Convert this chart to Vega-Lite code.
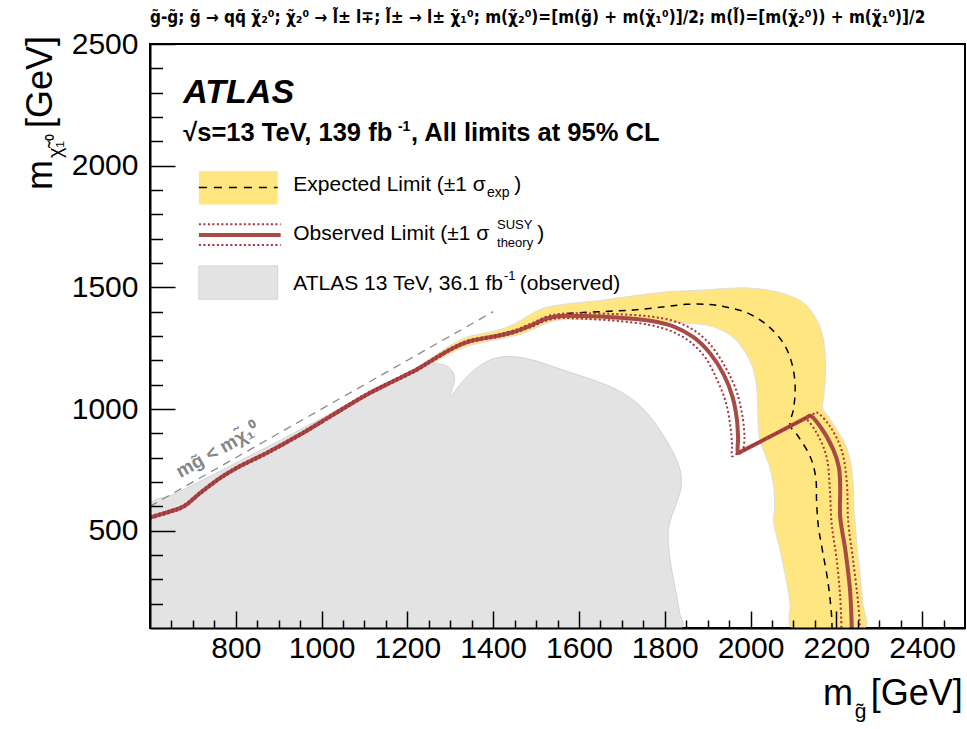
{
  "$schema": "https://vega.github.io/schema/vega-lite/v6.json",
  "width": 815,
  "height": 584,
  "autosize": {"type": "none"},
  "padding": {"left": 150, "top": 44, "right": 2, "bottom": 101},
  "background": "white",
  "config": {
    "view": {"stroke": "black", "strokeWidth": 2},
    "font": "Liberation Sans",
    "axis": {"grid": false, "domain": true, "domainColor": "black", "domainWidth": 2, "tickColor": "black", "tickWidth": 1.5, "labelFont": "Liberation Sans", "labelFontSize": 30, "labelColor": "black", "labelOverlap": false, "labelFlush": false, "labelBound": false}
  },
  "title": {
    "text": "g\u0303-g\u0303; g\u0303 \u2192 qq\u0304 \u03c7\u0303\u2082\u2070; \u03c7\u0303\u2082\u2070 \u2192 l\u0303\u00b1 l\u2213; l\u0303\u00b1 \u2192 l\u00b1 \u03c7\u0303\u2081\u2070; m(\u03c7\u0303\u2082\u2070)=[m(g\u0303) + m(\u03c7\u0303\u2081\u2070)]/2; m(l\u0303)=[m(\u03c7\u0303\u2082\u2070)) + m(\u03c7\u0303\u2081\u2070)]/2",
    "anchor": "start",
    "frame": "group",
    "font": "Liberation Sans Narrow, DejaVu Sans Condensed, sans-serif",
    "fontSize": 17,
    "fontWeight": "bold",
    "color": "black",
    "baseline": "alphabetic",
    "offset": -11
  },
  "resolve": {"axis": {"x": "independent", "y": "independent"}},
  "datasets": {
    "gray": [
      {"i":0,"x":600,"y":100},{"i":1,"x":600,"y":608},{"i":2,"x":650,"y":645},{"i":3,"x":700,"y":688},{"i":4,"x":750,"y":732},{"i":5,"x":800,"y":778},{"i":6,"x":850,"y":823},{"i":7,"x":900,"y":868},{"i":8,"x":950,"y":915},{"i":9,"x":1000,"y":962},{"i":10,"x":1050,"y":1010},{"i":11,"x":1100,"y":1060},{"i":12,"x":1150,"y":1105},{"i":13,"x":1200,"y":1150},{"i":14,"x":1235,"y":1175},{"i":15,"x":1268,"y":1186},{"i":16,"x":1290,"y":1178},{"i":17,"x":1305,"y":1155},{"i":18,"x":1310,"y":1125},{"i":19,"x":1306,"y":1090},{"i":20,"x":1300,"y":1052},{"i":21,"x":1318,"y":1090},{"i":22,"x":1340,"y":1135},{"i":23,"x":1369,"y":1178},{"i":24,"x":1395,"y":1203},{"i":25,"x":1420,"y":1214},{"i":26,"x":1455,"y":1214},{"i":27,"x":1495,"y":1200},{"i":28,"x":1533,"y":1178},{"i":29,"x":1575,"y":1153},{"i":30,"x":1618,"y":1128},{"i":31,"x":1655,"y":1105},{"i":32,"x":1690,"y":1078},{"i":33,"x":1720,"y":1045},{"i":34,"x":1745,"y":1008},{"i":35,"x":1772,"y":955},{"i":36,"x":1797,"y":890},{"i":37,"x":1820,"y":820},{"i":38,"x":1835,"y":755},{"i":39,"x":1839,"y":690},{"i":40,"x":1830,"y":625},{"i":41,"x":1818,"y":570},{"i":42,"x":1809,"y":510},{"i":43,"x":1808,"y":460},{"i":44,"x":1811,"y":400},{"i":45,"x":1818,"y":320},{"i":46,"x":1828,"y":230},{"i":47,"x":1835,"y":160},{"i":48,"x":1840,"y":100},{"i":49,"x":600,"y":100}
    ],
    "band": [
      {"i":0,"x":1195,"y":1140},{"i":1,"x":1230,"y":1182},{"i":2,"x":1260,"y":1215},{"i":3,"x":1300,"y":1262},{"i":4,"x":1338,"y":1295},{"i":5,"x":1380,"y":1312},{"i":6,"x":1416,"y":1327},{"i":7,"x":1450,"y":1350},{"i":8,"x":1478,"y":1380},{"i":9,"x":1517,"y":1414},{"i":10,"x":1571,"y":1432},{"i":11,"x":1649,"y":1446},{"i":12,"x":1727,"y":1465},{"i":13,"x":1805,"y":1482},{"i":14,"x":1882,"y":1488},{"i":15,"x":1950,"y":1496},{"i":16,"x":2000,"y":1497},{"i":17,"x":2069,"y":1478},{"i":18,"x":2123,"y":1437},{"i":19,"x":2154,"y":1368},{"i":20,"x":2170,"y":1286},{"i":21,"x":2175,"y":1149},{"i":22,"x":2170,"y":1040},{"i":23,"x":2168,"y":1005},{"i":24,"x":2185,"y":960},{"i":25,"x":2201,"y":915},{"i":26,"x":2220,"y":860},{"i":27,"x":2232,"y":790},{"i":28,"x":2239,"y":700},{"i":29,"x":2241,"y":600},{"i":30,"x":2244,"y":531},{"i":31,"x":2249,"y":430},{"i":32,"x":2255,"y":325},{"i":33,"x":2262,"y":200},{"i":34,"x":2267,"y":100},{"i":35,"x":2096,"y":100},{"i":36,"x":2092,"y":202},{"i":37,"x":2080,"y":325},{"i":38,"x":2065,"y":449},{"i":39,"x":2054,"y":531},{"i":40,"x":2056,"y":600},{"i":41,"x":2055,"y":668},{"i":42,"x":2045,"y":760},{"i":43,"x":2030,"y":830},{"i":44,"x":2020,"y":888},{"i":45,"x":2017,"y":984},{"i":46,"x":2015,"y":1080},{"i":47,"x":2005,"y":1170},{"i":48,"x":1985,"y":1240},{"i":49,"x":1960,"y":1293},{"i":50,"x":1913,"y":1338},{"i":51,"x":1836,"y":1354},{"i":52,"x":1760,"y":1362},{"i":53,"x":1690,"y":1366},{"i":54,"x":1620,"y":1368},{"i":55,"x":1556,"y":1366},{"i":56,"x":1520,"y":1350},{"i":57,"x":1490,"y":1325},{"i":58,"x":1460,"y":1305},{"i":59,"x":1420,"y":1290},{"i":60,"x":1380,"y":1275},{"i":61,"x":1340,"y":1258},{"i":62,"x":1300,"y":1228},{"i":63,"x":1260,"y":1188},{"i":64,"x":1225,"y":1160},{"i":65,"x":1195,"y":1140}
    ],
    "diag": [{"i":0,"x":600,"y":600},{"i":1,"x":1400,"y":1400}],
    "exp": [
      {"i":0,"x":600,"y":554},{"i":1,"x":647,"y":579},{"i":2,"x":678,"y":599},{"i":3,"x":717,"y":655},{"i":4,"x":763,"y":716},{"i":5,"x":802,"y":758},{"i":6,"x":872,"y":819},{"i":7,"x":950,"y":895},{"i":8,"x":1027,"y":977},{"i":9,"x":1105,"y":1059},{"i":10,"x":1167,"y":1114},{"i":11,"x":1222,"y":1162},{"i":12,"x":1260,"y":1203},{"i":13,"x":1307,"y":1251},{"i":14,"x":1346,"y":1279},{"i":15,"x":1408,"y":1300},{"i":16,"x":1450,"y":1318},{"i":17,"x":1490,"y":1348},{"i":18,"x":1525,"y":1373},{"i":19,"x":1571,"y":1391},{"i":20,"x":1650,"y":1400},{"i":21,"x":1727,"y":1407},{"i":22,"x":1800,"y":1420},{"i":23,"x":1850,"y":1430},{"i":24,"x":1900,"y":1430},{"i":25,"x":1940,"y":1420},{"i":26,"x":1991,"y":1396},{"i":27,"x":2037,"y":1347},{"i":28,"x":2076,"y":1272},{"i":29,"x":2096,"y":1190},{"i":30,"x":2104,"y":1094},{"i":31,"x":2100,"y":997},{"i":32,"x":2092,"y":935},{"i":33,"x":2111,"y":888},{"i":34,"x":2139,"y":805},{"i":35,"x":2152,"y":720},{"i":36,"x":2154,"y":620},{"i":37,"x":2158,"y":520},{"i":38,"x":2166,"y":435},{"i":39,"x":2181,"y":284},{"i":40,"x":2189,"y":150},{"i":41,"x":2190,"y":100}
    ],
    "obs": [
      {"i":0,"x":600,"y":554},{"i":1,"x":647,"y":579},{"i":2,"x":678,"y":599},{"i":3,"x":717,"y":655},{"i":4,"x":763,"y":716},{"i":5,"x":802,"y":758},{"i":6,"x":872,"y":819},{"i":7,"x":950,"y":895},{"i":8,"x":1027,"y":977},{"i":9,"x":1105,"y":1059},{"i":10,"x":1167,"y":1114},{"i":11,"x":1222,"y":1162},{"i":12,"x":1260,"y":1203},{"i":13,"x":1307,"y":1251},{"i":14,"x":1346,"y":1279},{"i":15,"x":1408,"y":1300},{"i":16,"x":1450,"y":1318},{"i":17,"x":1490,"y":1345},{"i":18,"x":1525,"y":1372},{"i":19,"x":1556,"y":1382},{"i":20,"x":1610,"y":1382},{"i":21,"x":1688,"y":1376},{"i":22,"x":1766,"y":1363},{"i":23,"x":1820,"y":1340},{"i":24,"x":1867,"y":1295},{"i":25,"x":1906,"y":1228},{"i":26,"x":1938,"y":1140},{"i":27,"x":1958,"y":1050},{"i":28,"x":1968,"y":960},{"i":29,"x":1971,"y":880},{"i":30,"x":1971,"y":819},{"i":31,"x":1980,"y":827},{"i":32,"x":2130,"y":964},{"i":33,"x":2139,"y":972},{"i":34,"x":2162,"y":929},{"i":35,"x":2193,"y":833},{"i":36,"x":2206,"y":760},{"i":37,"x":2209,"y":680},{"i":38,"x":2209,"y":558},{"i":39,"x":2221,"y":421},{"i":40,"x":2232,"y":256},{"i":41,"x":2236,"y":100}
    ],
    "obsUp": [
      {"i":0,"x":600,"y":559},{"i":1,"x":647,"y":584},{"i":2,"x":678,"y":604},{"i":3,"x":717,"y":660},{"i":4,"x":763,"y":721},{"i":5,"x":802,"y":763},{"i":6,"x":872,"y":824},{"i":7,"x":950,"y":900},{"i":8,"x":1027,"y":982},{"i":9,"x":1105,"y":1064},{"i":10,"x":1167,"y":1119},{"i":11,"x":1222,"y":1167},{"i":12,"x":1260,"y":1208},{"i":13,"x":1307,"y":1256},{"i":14,"x":1346,"y":1284},{"i":15,"x":1408,"y":1305},{"i":16,"x":1450,"y":1324},{"i":17,"x":1490,"y":1352},{"i":18,"x":1525,"y":1380},{"i":19,"x":1556,"y":1391},{"i":20,"x":1610,"y":1393},{"i":21,"x":1688,"y":1390},{"i":22,"x":1766,"y":1380},{"i":23,"x":1820,"y":1362},{"i":24,"x":1867,"y":1325},{"i":25,"x":1906,"y":1265},{"i":26,"x":1942,"y":1170},{"i":27,"x":1968,"y":1070},{"i":28,"x":1982,"y":960},{"i":29,"x":1986,"y":880},{"i":30,"x":1985,"y":832},{"i":31,"x":1995,"y":841},{"i":32,"x":2145,"y":978},{"i":33,"x":2154,"y":986},{"i":34,"x":2185,"y":929},{"i":35,"x":2212,"y":833},{"i":36,"x":2224,"y":709},{"i":37,"x":2228,"y":531},{"i":38,"x":2239,"y":380},{"i":39,"x":2251,"y":202},{"i":40,"x":2255,"y":100}
    ],
    "obsDn": [
      {"i":0,"x":600,"y":549},{"i":1,"x":647,"y":574},{"i":2,"x":678,"y":594},{"i":3,"x":717,"y":650},{"i":4,"x":763,"y":711},{"i":5,"x":802,"y":753},{"i":6,"x":872,"y":814},{"i":7,"x":950,"y":890},{"i":8,"x":1027,"y":972},{"i":9,"x":1105,"y":1054},{"i":10,"x":1167,"y":1109},{"i":11,"x":1222,"y":1157},{"i":12,"x":1260,"y":1198},{"i":13,"x":1307,"y":1246},{"i":14,"x":1346,"y":1274},{"i":15,"x":1408,"y":1295},{"i":16,"x":1450,"y":1312},{"i":17,"x":1490,"y":1338},{"i":18,"x":1525,"y":1364},{"i":19,"x":1556,"y":1373},{"i":20,"x":1610,"y":1371},{"i":21,"x":1688,"y":1362},{"i":22,"x":1766,"y":1345},{"i":23,"x":1820,"y":1316},{"i":24,"x":1860,"y":1275},{"i":25,"x":1895,"y":1210},{"i":26,"x":1922,"y":1120},{"i":27,"x":1942,"y":1030},{"i":28,"x":1953,"y":930},{"i":29,"x":1957,"y":850},{"i":30,"x":1957,"y":806},{"i":31,"x":1967,"y":815},{"i":32,"x":2118,"y":953},{"i":33,"x":2127,"y":961},{"i":34,"x":2154,"y":902},{"i":35,"x":2177,"y":805},{"i":36,"x":2185,"y":668},{"i":37,"x":2189,"y":531},{"i":38,"x":2201,"y":380},{"i":39,"x":2209,"y":229},{"i":40,"x":2212,"y":100}
    ]
  },
  "layer": [
    {"data": {"name": "gray"}, "mark": {"type": "line", "fill": "#e3e3e3", "stroke": "#d3d3d3", "strokeWidth": 1, "interpolate": "catmull-rom", "clip": true},
     "encoding": {
      "x": {"field": "x", "type": "quantitative",
        "scale": {"domain": [600, 2500], "nice": false, "zero": false},
        "axis": {"title": null, "orient": "bottom", "format": "d", "zindex": 1,
          "values": [650,700,750,800,850,900,950,1000,1050,1100,1150,1200,1250,1300,1350,1400,1450,1500,1550,1600,1650,1700,1750,1800,1850,1900,1950,2000,2050,2100,2150,2200,2250,2300,2350,2400,2450],
          "labelExpr": "datum.value % 200 === 0 ? datum.label : ''",
          "tickSize": {"condition": {"test": "datum.value % 200 === 0", "value": -17}, "value": -8},
          "labelPadding": 22}},
      "y": {"field": "y", "type": "quantitative",
        "scale": {"domain": [100, 2500], "nice": false, "zero": false},
        "axis": {"title": null, "orient": "left", "format": "d", "zindex": 1,
          "values": [200,300,400,500,600,700,800,900,1000,1100,1200,1300,1400,1500,1600,1700,1800,1900,2000,2100,2200,2300,2400,2500],
          "labelExpr": "datum.value % 500 === 0 ? datum.label : ''",
          "tickSize": {"condition": {"test": "datum.value % 500 === 0", "value": -25}, "value": -12.5},
          "labelPadding": 37}},
      "order": {"field": "i", "type": "quantitative"}}},
    {"data": {"name": "band"}, "mark": {"type": "line", "fill": "#ffe680", "stroke": "#dedede", "strokeWidth": 1, "interpolate": "catmull-rom", "clip": true},
     "encoding": {"x": {"field": "x", "type": "quantitative", "axis": null}, "y": {"field": "y", "type": "quantitative", "axis": null}, "order": {"field": "i", "type": "quantitative"}}},
    {"data": {"name": "diag"}, "mark": {"type": "line", "stroke": "#8a8a8a", "strokeWidth": 1.3, "strokeDash": [8, 6], "clip": true},
     "encoding": {"x": {"field": "x", "type": "quantitative", "axis": null}, "y": {"field": "y", "type": "quantitative", "axis": null}, "order": {"field": "i", "type": "quantitative"}}},
    {"data": {"name": "exp"}, "mark": {"type": "line", "stroke": "black", "strokeWidth": 1.5, "strokeDash": [7, 6], "interpolate": "catmull-rom", "clip": true},
     "encoding": {"x": {"field": "x", "type": "quantitative", "axis": null}, "y": {"field": "y", "type": "quantitative", "axis": null}, "order": {"field": "i", "type": "quantitative"}}},
    {"data": {"name": "obs"}, "mark": {"type": "line", "stroke": "#a64b46", "strokeWidth": 4, "interpolate": "catmull-rom", "clip": true},
     "encoding": {"x": {"field": "x", "type": "quantitative", "axis": null}, "y": {"field": "y", "type": "quantitative", "axis": null}, "order": {"field": "i", "type": "quantitative"}}},
    {"data": {"name": "obsUp"}, "mark": {"type": "line", "stroke": "#a8303a", "strokeWidth": 2, "strokeDash": [2, 2.5], "interpolate": "catmull-rom", "clip": true},
     "encoding": {"x": {"field": "x", "type": "quantitative", "axis": null}, "y": {"field": "y", "type": "quantitative", "axis": null}, "order": {"field": "i", "type": "quantitative"}}},
    {"data": {"name": "obsDn"}, "mark": {"type": "line", "stroke": "#a8303a", "strokeWidth": 2, "strokeDash": [2, 2.5], "interpolate": "catmull-rom", "clip": true},
     "encoding": {"x": {"field": "x", "type": "quantitative", "axis": null}, "y": {"field": "y", "type": "quantitative", "axis": null}, "order": {"field": "i", "type": "quantitative"}}},

    {"data": {"values": [{}]}, "mark": {"type": "rect", "fill": "#ffe680"},
     "encoding": {"x": {"datum": 714, "type": "quantitative", "axis": null}, "x2": {"datum": 897.7}, "y": {"datum": 1840, "type": "quantitative", "axis": null}, "y2": {"datum": 1978}}},
    {"data": {"values": [{}]}, "mark": {"type": "rule", "stroke": "black", "strokeWidth": 1.5, "strokeDash": [8, 7]},
     "encoding": {"x": {"datum": 714, "type": "quantitative", "axis": null}, "x2": {"datum": 897.7}, "y": {"datum": 1910, "type": "quantitative", "axis": null}}},
    {"data": {"values": [{}]}, "mark": {"type": "rule", "stroke": "#a64b46", "strokeWidth": 4},
     "encoding": {"x": {"datum": 714, "type": "quantitative", "axis": null}, "x2": {"datum": 904.6}, "y": {"datum": 1715, "type": "quantitative", "axis": null}}},
    {"data": {"values": [{}]}, "mark": {"type": "rule", "stroke": "#a8303a", "strokeWidth": 2, "strokeDash": [2, 2.5]},
     "encoding": {"x": {"datum": 714, "type": "quantitative", "axis": null}, "x2": {"datum": 904.6}, "y": {"datum": 1759, "type": "quantitative", "axis": null}}},
    {"data": {"values": [{}]}, "mark": {"type": "rule", "stroke": "#a8303a", "strokeWidth": 2, "strokeDash": [2, 2.5]},
     "encoding": {"x": {"datum": 714, "type": "quantitative", "axis": null}, "x2": {"datum": 904.6}, "y": {"datum": 1674, "type": "quantitative", "axis": null}}},
    {"data": {"values": [{}]}, "mark": {"type": "rect", "fill": "#e3e3e3", "stroke": "#d3d3d3", "strokeWidth": 1},
     "encoding": {"x": {"datum": 714, "type": "quantitative", "axis": null}, "x2": {"datum": 897.7}, "y": {"datum": 1451, "type": "quantitative", "axis": null}, "y2": {"datum": 1588}}},

    {"data": {"values": [{}]}, "mark": {"type": "text", "align": "left", "baseline": "alphabetic", "font": "Liberation Sans", "fontSize": 34, "fontWeight": "bold", "fontStyle": "italic", "color": "black"},
     "encoding": {"x": {"datum": 677.6, "type": "quantitative", "axis": null}, "y": {"datum": 2259, "type": "quantitative", "axis": null}, "text": {"value": "ATLAS"}}},
    {"data": {"values": [{}]}, "mark": {"type": "text", "align": "left", "baseline": "alphabetic", "font": "Liberation Sans", "fontSize": 25.5, "fontWeight": "bold", "color": "black"},
     "encoding": {"x": {"datum": 677.6, "type": "quantitative", "axis": null}, "y": {"datum": 2101, "type": "quantitative", "axis": null}, "text": {"value": "\u221as=13 TeV, 139 fb"}}},
    {"data": {"values": [{}]}, "mark": {"type": "text", "align": "left", "baseline": "alphabetic", "font": "Liberation Sans", "fontSize": 14, "fontWeight": "bold", "color": "black"},
     "encoding": {"x": {"datum": 1178, "type": "quantitative", "axis": null}, "y": {"datum": 2144, "type": "quantitative", "axis": null}, "text": {"value": "-1"}}},
    {"data": {"values": [{}]}, "mark": {"type": "text", "align": "left", "baseline": "alphabetic", "font": "Liberation Sans", "fontSize": 25.5, "fontWeight": "bold", "color": "black"},
     "encoding": {"x": {"datum": 1208.5, "type": "quantitative", "axis": null}, "y": {"datum": 2101, "type": "quantitative", "axis": null}, "text": {"value": ", All limits at 95% CL"}}},

    {"data": {"values": [{}]}, "mark": {"type": "text", "align": "left", "baseline": "alphabetic", "font": "Liberation Sans", "fontSize": 21, "color": "black"},
     "encoding": {"x": {"datum": 934, "type": "quantitative", "axis": null}, "y": {"datum": 1897, "type": "quantitative", "axis": null}, "text": {"value": "Expected Limit (\u00b11 \u03c3"}}},
    {"data": {"values": [{}]}, "mark": {"type": "text", "align": "left", "baseline": "alphabetic", "font": "Liberation Sans", "fontSize": 14, "color": "black"},
     "encoding": {"x": {"datum": 1385.6, "type": "quantitative", "axis": null}, "y": {"datum": 1872, "type": "quantitative", "axis": null}, "text": {"value": "exp"}}},
    {"data": {"values": [{}]}, "mark": {"type": "text", "align": "left", "baseline": "alphabetic", "font": "Liberation Sans", "fontSize": 21, "color": "black"},
     "encoding": {"x": {"datum": 1449, "type": "quantitative", "axis": null}, "y": {"datum": 1897, "type": "quantitative", "axis": null}, "text": {"value": ")"}}},

    {"data": {"values": [{}]}, "mark": {"type": "text", "align": "left", "baseline": "alphabetic", "font": "Liberation Sans", "fontSize": 21, "color": "black"},
     "encoding": {"x": {"datum": 934, "type": "quantitative", "axis": null}, "y": {"datum": 1694, "type": "quantitative", "axis": null}, "text": {"value": "Observed Limit (\u00b11 \u03c3"}}},
    {"data": {"values": [{}]}, "mark": {"type": "text", "align": "left", "baseline": "alphabetic", "font": "Liberation Sans", "fontSize": 13, "color": "black"},
     "encoding": {"x": {"datum": 1409, "type": "quantitative", "axis": null}, "y": {"datum": 1738, "type": "quantitative", "axis": null}, "text": {"value": "SUSY"}}},
    {"data": {"values": [{}]}, "mark": {"type": "text", "align": "left", "baseline": "alphabetic", "font": "Liberation Sans", "fontSize": 13, "color": "black"},
     "encoding": {"x": {"datum": 1409, "type": "quantitative", "axis": null}, "y": {"datum": 1667, "type": "quantitative", "axis": null}, "text": {"value": "theory"}}},
    {"data": {"values": [{}]}, "mark": {"type": "text", "align": "left", "baseline": "alphabetic", "font": "Liberation Sans", "fontSize": 21, "color": "black"},
     "encoding": {"x": {"datum": 1503, "type": "quantitative", "axis": null}, "y": {"datum": 1694, "type": "quantitative", "axis": null}, "text": {"value": ")"}}},

    {"data": {"values": [{}]}, "mark": {"type": "text", "align": "left", "baseline": "alphabetic", "font": "Liberation Sans", "fontSize": 21, "color": "black"},
     "encoding": {"x": {"datum": 934, "type": "quantitative", "axis": null}, "y": {"datum": 1489, "type": "quantitative", "axis": null}, "text": {"value": "ATLAS 13 TeV, 36.1 fb"}}},
    {"data": {"values": [{}]}, "mark": {"type": "text", "align": "left", "baseline": "alphabetic", "font": "Liberation Sans", "fontSize": 13, "color": "black"},
     "encoding": {"x": {"datum": 1425, "type": "quantitative", "axis": null}, "y": {"datum": 1530, "type": "quantitative", "axis": null}, "text": {"value": "-1"}}},
    {"data": {"values": [{}]}, "mark": {"type": "text", "align": "left", "baseline": "alphabetic", "font": "Liberation Sans", "fontSize": 21, "color": "black"},
     "encoding": {"x": {"datum": 1462, "type": "quantitative", "axis": null}, "y": {"datum": 1489, "type": "quantitative", "axis": null}, "text": {"value": "(observed)"}}},

    {"data": {"values": [{}]}, "mark": {"type": "text", "align": "center", "baseline": "middle", "font": "Liberation Sans", "fontSize": 19, "fontWeight": "bold", "color": "#858585", "angle": 330.4},
     "encoding": {"x": {"datum": 758.5, "type": "quantitative", "axis": null}, "y": {"datum": 831.5, "type": "quantitative", "axis": null}, "text": {"value": "mg\u0303 < m\u03c7\u0303\u2081\u2070"}}},

    {"data": {"values": [{}]}, "mark": {"type": "text", "align": "left", "baseline": "alphabetic", "font": "Liberation Sans", "fontSize": 36, "color": "black"},
     "encoding": {"x": {"datum": 2169, "type": "quantitative", "axis": null}, "y": {"datum": -216, "type": "quantitative", "axis": null}, "text": {"value": "m"}}},
    {"data": {"values": [{}]}, "mark": {"type": "text", "align": "left", "baseline": "alphabetic", "font": "Liberation Sans", "fontSize": 21, "color": "black"},
     "encoding": {"x": {"datum": 2243, "type": "quantitative", "axis": null}, "y": {"datum": -270, "type": "quantitative", "axis": null}, "text": {"value": "g\u0303"}}},
    {"data": {"values": [{}]}, "mark": {"type": "text", "align": "right", "baseline": "alphabetic", "font": "Liberation Sans", "fontSize": 36, "color": "black"},
     "encoding": {"x": {"datum": 2495, "type": "quantitative", "axis": null}, "y": {"datum": -216, "type": "quantitative", "axis": null}, "text": {"value": "[GeV]"}}},

    {"data": {"values": [{}]}, "mark": {"type": "text", "align": "left", "baseline": "alphabetic", "font": "Liberation Sans", "fontSize": 36, "color": "black", "angle": 270},
     "encoding": {"x": {"datum": 371.5, "type": "quantitative", "axis": null}, "y": {"datum": 1900, "type": "quantitative", "axis": null}, "text": {"value": "m"}}},
    {"data": {"values": [{}]}, "mark": {"type": "text", "align": "left", "baseline": "alphabetic", "font": "Liberation Sans", "fontSize": 20, "color": "black", "angle": 270},
     "encoding": {"x": {"datum": 394.8, "type": "quantitative", "axis": null}, "y": {"datum": 2031, "type": "quantitative", "axis": null}, "text": {"value": "\u03c7\u0303\u2081\u2070"}}},
    {"data": {"values": [{}]}, "mark": {"type": "text", "align": "left", "baseline": "alphabetic", "font": "Liberation Sans", "fontSize": 36, "color": "black", "angle": 270},
     "encoding": {"x": {"datum": 371.5, "type": "quantitative", "axis": null}, "y": {"datum": 2155, "type": "quantitative", "axis": null}, "text": {"value": "[GeV]"}}}
  ]
}
